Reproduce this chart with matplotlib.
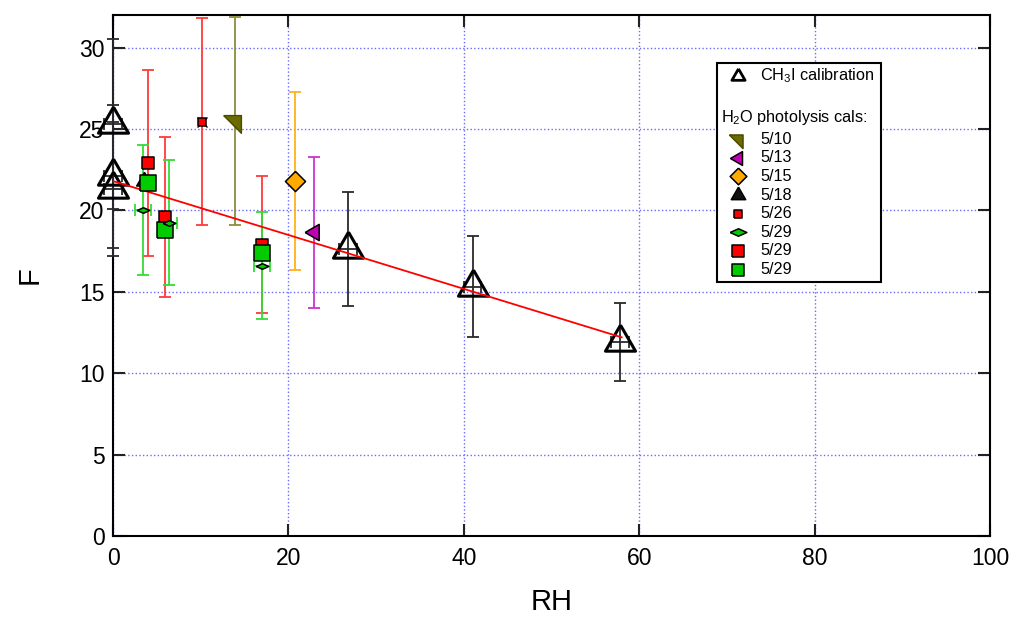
import numpy as np
import matplotlib
matplotlib.use("Agg")
import matplotlib.pyplot as plt
from matplotlib.patches import Rectangle

plt.rcParams['font.family'] = ['Liberation Sans', 'DejaVu Sans']
plt.rcParams['mathtext.fontset'] = 'custom'
plt.rcParams['mathtext.rm'] = 'Liberation Sans'
plt.rcParams['mathtext.it'] = 'Liberation Sans:italic'
plt.rcParams['mathtext.bf'] = 'Liberation Sans:bold'

# CH3I calibration points
ch3i_rh = [0, 0, 0, 26.8, 41.0, 57.8]
ch3i_f = [25.3, 22.1, 21.3, 17.6, 15.3, 11.9]
ch3i_ferr = [5.2, 4.4, 4.1, 3.5, 3.1, 2.4]
ch3i_rherr = [1.0, 1.0, 1.0, 1.0, 1.0, 1.0]

# linear fit through the CH3I points (end points)
fit_rh = [0, 58]
fit_f = [21.8, 12.2]

# H2O photolysis calibrations
rh_0510, f_0510, err_0510 = [13.9], [25.5], [6.4]
rh_0513, f_0513, err_0513 = [22.9], [18.65], [4.65]
rh_0515, f_0515, err_0515 = [20.8], [21.8], [5.45]
rh_0518, f_0518 = [3.5], [21.8]
rh_0526, f_0526, err_0526 = [10.1], [25.45], [6.35]
rh_0529a, f_0529a, err_0529a = [3.4, 6.4, 17.0], [20.0, 19.25, 16.6], [4.0, 3.85, 3.3]
rherr_0529a = [0.95, 0.9, 0.95]
rh_0529b, f_0529b, err_0529b = [4.0, 5.9, 17.0], [22.9, 19.6, 17.9], [5.7, 4.9, 4.2]
rh_0529c, f_0529c = [4.0, 5.9, 17.0], [21.7, 18.8, 17.4]

legend_labels = ['5/10', '5/13', '5/15', '5/18', '5/26', '5/29', '5/29', '5/29']

# marker shapes (triangles centred on their centroid)
tri_up = [(0, 1), (-0.866, -0.5), (0.866, -0.5), (0, 1)]
tri_left = [(-1, 0), (0.5, 0.866), (0.5, -0.866), (-1, 0)]
tri_corner = [(-4/3, 2/3), (2/3, 2/3), (2/3, -4/3), (-4/3, 2/3)]
diamond = [(0, 1), (1, 0), (0, -1), (-1, 0), (0, 1)]
flat_diamond = [(-1, 0), (0, 0.45), (1, 0), (0, -0.45), (-1, 0)]
square = [(-1, -1), (1, -1), (1, 1), (-1, 1), (-1, -1)]

fig = plt.figure(figsize=(10.1, 6.31), dpi=100)
ax = fig.add_axes([0.1119, 0.1506, 0.8683, 0.8256])
ax.set_xlim(0, 100)
ax.set_ylim(0, 32)

ax.grid(True, color='#6a6aff', linestyle=':', linewidth=1.0)
ax.set_axisbelow(True)
ax.set_xticks([0, 20, 40, 60, 80, 100])
ax.set_yticks([0, 5, 10, 15, 20, 25, 30])
ax.tick_params(direction='in', length=8.5, width=1.5, color='#222222',
               top=True, right=True, labelsize=16.5)
ax.tick_params(axis='x', pad=8)
ax.tick_params(axis='y', pad=6)
for s in ax.spines.values():
    s.set_linewidth(1.5)
    s.set_color('black')

ax.set_xlabel('RH', fontsize=21)
ax.set_ylabel('F', fontsize=21)
ax.xaxis.set_label_coords(0.5, -0.10)
ax.yaxis.set_label_coords(-0.079, 0.5)

ebkw = dict(fmt='none', capsize=4.5, elinewidth=1.3, capthick=1.3, clip_on=False)

# error bars
ax.errorbar(ch3i_rh, ch3i_f, yerr=ch3i_ferr, xerr=ch3i_rherr, ecolor='#2a2a2a', zorder=3, **ebkw)
ax.errorbar(rh_0510, f_0510, yerr=err_0510, ecolor='#8c8c3a', zorder=3, **ebkw)
ax.errorbar(rh_0513, f_0513, yerr=err_0513, ecolor='#cc33cc', zorder=3, **ebkw)
ax.errorbar(rh_0515, f_0515, yerr=err_0515, ecolor='#ffb21a', zorder=3, **ebkw)
ax.errorbar(rh_0526, f_0526, yerr=err_0526, ecolor='#ff3a3a', zorder=3, **ebkw)
ax.errorbar(rh_0529b, f_0529b, yerr=err_0529b, ecolor='#ff3a3a', zorder=3, **ebkw)
ax.errorbar(rh_0529a, f_0529a, yerr=err_0529a, xerr=rherr_0529a, ecolor='#33dd33', zorder=3, **ebkw)

# markers
mk = dict(linestyle='none', clip_on=False, markeredgecolor='black', markeredgewidth=1.1)
ax.plot(ch3i_rh, ch3i_f, marker=tri_up, markersize=25, markerfacecolor='none',
        markeredgewidth=2.2, linestyle='none', markeredgecolor='black', clip_on=False, zorder=4)
ax.plot(fit_rh, fit_f, color='#ff0000', linewidth=1.3, zorder=5)

ax.plot(rh_0510, f_0510, marker=tri_corner, markersize=17, markerfacecolor='#6b6b00',
        linestyle='none', markeredgecolor='#4a4a00', markeredgewidth=1.0, zorder=6)
ax.plot(rh_0513, f_0513, marker=tri_left, markersize=13.5, markerfacecolor='#c000b4', zorder=6, **mk)
ax.plot(rh_0515, f_0515, marker=diamond, markersize=14.5, markerfacecolor='#ffaa00', zorder=6, **mk)
ax.plot(rh_0518, f_0518, marker=tri_up, markersize=13, markerfacecolor='#111111', zorder=6, **mk)
ax.plot(rh_0526, f_0526, marker=square, markersize=6, markerfacecolor='#ff0000', zorder=6, **mk)
ax.plot(rh_0526, f_0526, marker='x', markersize=7.5, markeredgecolor='black',
        markeredgewidth=1.0, linestyle='none', zorder=5.9)
ax.plot(rh_0529b, f_0529b, marker=square, markersize=8.5, markerfacecolor='#ff0000', zorder=6, **mk)
ax.plot(rh_0529c, f_0529c, marker=square, markersize=11, markerfacecolor='#00cc00', zorder=7, **mk)
ax.plot(rh_0529a, f_0529a, marker=flat_diamond, markersize=9, markerfacecolor='#00cc00', zorder=8, **mk)

# legend box
tr = ax.transAxes
ax.add_patch(Rectangle((0.689, 0.4875), 0.187, 0.4205, transform=tr, facecolor='white',
                       edgecolor='black', linewidth=1.5, zorder=10))


def yax(py):
    return (536 - py) / 521.0


mx, tx = 0.7127, 0.738
fs = 11.7
ax.plot([mx], [yax(76)], transform=tr, marker=tri_up, markersize=11, markerfacecolor='none',
        markeredgecolor='black', markeredgewidth=2.0, linestyle='none', zorder=11, clip_on=False)
ax.text(tx, yax(76), 'CH$_3$I calibration', transform=tr, fontsize=fs, va='center', zorder=11)
ax.text(0.693, yax(117), 'H$_2$O photolysis cals:', transform=tr, fontsize=fs, va='center', zorder=11)

leg_markers = [
    dict(marker=tri_corner, markersize=13, markerfacecolor='#6b6b00', markeredgecolor='#4a4a00'),
    dict(marker=tri_left, markersize=11.5, markerfacecolor='#c000b4'),
    dict(marker=diamond, markersize=12, markerfacecolor='#ffaa00'),
    dict(marker=tri_up, markersize=12, markerfacecolor='#111111'),
    dict(marker=square, markersize=5.5, markerfacecolor='#ff0000'),
    dict(marker=flat_diamond, markersize=12, markerfacecolor='#00cc00'),
    dict(marker=square, markersize=8.5, markerfacecolor='#ff0000'),
    dict(marker=square, markersize=8.5, markerfacecolor='#00cc00'),
]
row_py = [139, 157.7, 176.3, 195, 213.7, 232.3, 251, 269.7]
for lab, py, st in zip(legend_labels, row_py, leg_markers):
    kw = dict(markeredgecolor='black', markeredgewidth=1.1)
    kw.update(st)
    ax.plot([mx], [yax(py)], transform=tr, linestyle='none', zorder=11, clip_on=False, **kw)
    ax.text(tx, yax(py), lab, transform=tr, fontsize=fs, va='center', zorder=11)

fig.savefig('out.png', dpi=100)
